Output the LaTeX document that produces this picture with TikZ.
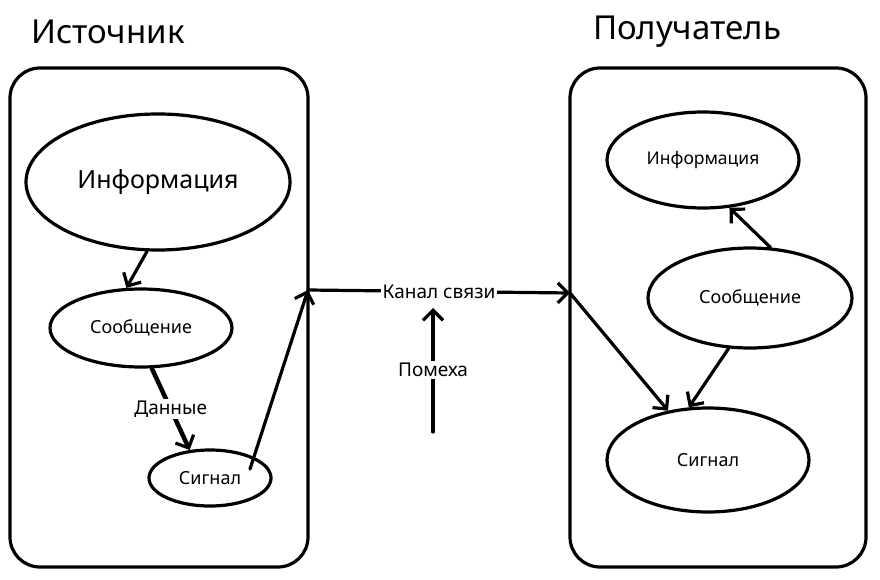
\documentclass[tikz,border=0pt]{standalone}
\usepackage{fontspec}
\setmainfont{Noto Sans}
\usetikzlibrary{shapes.geometric,arrows.meta}
\begin{document}
\begin{tikzpicture}[x=1pt,y=-1pt,
  line width=3.2pt, line cap=round, line join=round,
  box/.style={draw, rounded corners=30pt, inner sep=0pt},
  oval/.style={draw, ellipse, inner sep=0pt},
  arr/.style={-{Straight Barb[length=10pt,width=20pt,line width=3.2pt]}},
  lbl/.style={fill=white, inner sep=2pt, font=\fontsize{19}{22}\selectfont},
  ttl/.style={font=\fontsize{33}{38}\selectfont}]
\useasboundingbox (0,0) rectangle (880,580);
% titles
\node[ttl] (tL) at (108,32) {Источник};
\node[ttl] (tR) at (687,32) {Получатель};
% boxes
\node[box, minimum width=298pt, minimum height=499pt] (src) at (159,317.5) {};
\node[box, minimum width=296pt, minimum height=499pt] (dst) at (718,317.5) {};
% left ellipses
\node[oval, minimum width=264pt, minimum height=136pt, font=\fontsize{25}{29}\selectfont] (iL) at (158,182) {Информация};
\node[oval, minimum width=182pt, minimum height=78pt, font=\fontsize{18}{21}\selectfont] (sL) at (141,328) {Сообщение};
\node[oval, minimum width=122pt, minimum height=56pt, font=\fontsize{18}{21}\selectfont] (gL) at (210,478) {Сигнал};
% right ellipses
\node[oval, minimum width=192pt, minimum height=96pt, font=\fontsize{17.5}{20}\selectfont] (iR) at (703,160) {Информация};
\node[oval, minimum width=204pt, minimum height=100pt, font=\fontsize{18}{21}\selectfont] (sR) at (750,298) {Сообщение};
\node[oval, minimum width=202pt, minimum height=104pt, font=\fontsize{18}{21}\selectfont] (gR) at (708,460) {Сигнал};
% coordinates
\coordinate (gLs) at (250,469);
\coordinate (kL) at (308,290);
\coordinate (kR) at (570,293);
\coordinate (p1) at (433,432);
\coordinate (p2) at (433,308);
% connectors
\draw[arr] (iL.261) -- (sL.110);
\draw[arr, line width=4.5pt] (sL.285) -- node[lbl]{Данные} (gL.126);
\draw[arr] (gLs) -- (kL);
\draw[arr] (kL) -- node[lbl]{Канал связи} (kR);
\draw[arr] (p1) -- node[lbl]{Помеха} (p2);
\draw[arr] (sR.68) -- (iR.299);
\draw[arr] (sR.247) -- (gR.110);
\draw[arr] (kR) -- (gR.129);
\end{tikzpicture}
\end{document}
